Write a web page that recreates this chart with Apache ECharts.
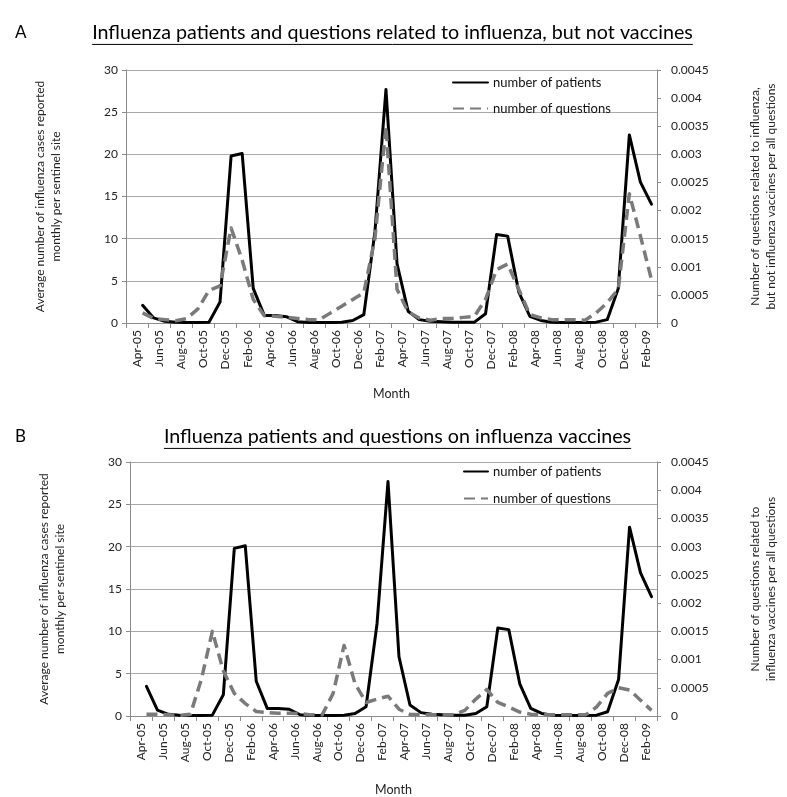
<!DOCTYPE html>
<html><head><meta charset="utf-8">
<script src="https://cdn.jsdelivr.net/npm/echarts@6/dist/echarts.min.js"></script>
<style>html,body{margin:0;padding:0;background:#fff}#c{width:787px;height:797px}</style>
</head><body><div id="c"></div>
<script>
// ---- data ----
const months = ['Apr-05','May-05','Jun-05','Jul-05','Aug-05','Sep-05','Oct-05','Nov-05','Dec-05',
  'Jan-06','Feb-06','Mar-06','Apr-06','May-06','Jun-06','Jul-06','Aug-06','Sep-06','Oct-06','Nov-06','Dec-06',
  'Jan-07','Feb-07','Mar-07','Apr-07','May-07','Jun-07','Jul-07','Aug-07','Sep-07','Oct-07','Nov-07','Dec-07',
  'Jan-08','Feb-08','Mar-08','Apr-08','May-08','Jun-08','Jul-08','Aug-08','Sep-08','Oct-08','Nov-08','Dec-08',
  'Jan-09','Feb-09'];
const tickLabels = ['Apr-05','Jun-05','Aug-05','Oct-05','Dec-05','Feb-06','Apr-06','Jun-06','Aug-06','Oct-06',
  'Dec-06','Feb-07','Apr-07','Jun-07','Aug-07','Oct-07','Dec-07','Feb-08','Apr-08','Jun-08','Aug-08','Oct-08',
  'Dec-08','Feb-09'];
const patientsA = [2.1,0.6,0.2,0.1,0.05,0.05,0.1,2.5,19.8,
  20.1,4.1,0.9,0.9,0.75,0.15,0.05,0.05,0.05,0.1,0.3,1.0,
  10.8,27.7,7.0,1.4,0.4,0.2,0.15,0.1,0.1,0.1,1.1,10.5,
  10.3,3.7,0.8,0.3,0.1,0.05,0.05,0.05,0.1,0.4,4.1,22.3,
  16.7,14.1];
const questionsA = [0.00018,0.00008,0.00006,0.00004,0.00008,0.00025,0.00058,0.00066,0.00169,
  0.00112,0.00042,0.00013,0.00012,0.0001,0.00008,0.00006,0.00006,0.00018,0.0003,0.00042,0.00054,
  0.0015,0.0035,0.0006,0.0002,0.00009,0.00005,0.00008,0.00008,0.0001,0.00012,0.00042,0.00095,
  0.00105,0.0006,0.00015,0.00009,0.00006,0.00006,0.00006,0.00005,0.00018,0.00036,0.0006,0.0023,
  0.00155,0.00077];
const patientsB = [3.5,0.7,0.2,0.1,0.05,0.05,0.1,2.5,19.8,
  20.1,4.1,0.9,0.9,0.8,0.15,0.05,0.05,0.05,0.1,0.3,1.1,
  10.9,27.7,7.0,1.3,0.4,0.2,0.15,0.1,0.1,0.3,1.1,10.4,
  10.2,3.8,0.9,0.3,0.1,0.05,0.05,0.05,0.1,0.5,4.3,22.3,
  16.9,14.1];
const questionsB = [0.00003,0.00003,0.00002,0.00001,0.00003,0.00065,0.0015,0.0008,0.0004,
  0.00022,0.00008,0.00006,0.00005,0.00005,0.00004,0.00002,0.00002,0.0004,0.00125,0.00057,0.00024,
  0.0003,0.00035,0.00012,0.00003,0.00002,0.00002,0.00002,0.00002,0.0001,0.0003,0.00047,0.00024,
  0.00016,0.00007,0.00003,0.00002,0.00002,0.00002,0.00002,0.00002,0.00016,0.0004,0.0005,0.00046,
  0.00028,0.0001];
const titleA = 'Influenza patients and questions related to influenza, but not vaccines';
const titleB = 'Influenza patients and questions on influenza vaccines';
const leftName = 'Average number of influenza cases reported\nmonthly per sentinel site';
const rightNameA = 'Number of questions related to influenza,\nbut not influenza vaccines per all questions';
const rightNameB = 'Number of questions related to\ninfluenza vaccines per all questions';
const seriesNames = ['number of patients', 'number of questions'];

// ---- chart ----
const FONT = 'Lato, "Open Sans", sans-serif';
const dataCats = [''].concat(months); // leading empty slot, as on the reference axis
const chart = echarts.init(document.getElementById('c'), null, {renderer:'canvas'});

const ctx = document.createElement('canvas').getContext('2d');
ctx.font = '18px Lato';
const tfs = 18 * 601 / ctx.measureText(titleA).width;
ctx.font = tfs + 'px Lato';
const wA = ctx.measureText(titleA).width, wB = ctx.measureText(titleB).width;

const axisGray = '#8c8c8c';
function xAxes(g, gap) {
  return [
    {type:'category', gridIndex:g, data:dataCats, boundaryGap:true, show:false},
    {type:'category', gridIndex:g, data:tickLabels, boundaryGap:true, position:'bottom',
     axisLine:{lineStyle:{color:axisGray}}, axisTick:{show:true, length:5, lineStyle:{color:axisGray}},
     axisLabel:{rotate:90, interval:0, fontSize:12, color:'#222', margin:7, fontFamily:FONT},
     splitLine:{show:false},
     name:'Month', nameLocation:'middle', nameGap:gap,
     nameTextStyle:{fontSize:12.5, color:'#222', fontFamily:FONT}}
  ];
}
function yAxes(g, rName) {
  return [
    {type:'value', gridIndex:g, min:0, max:30, interval:5, position:'left',
     axisLine:{show:true, lineStyle:{color:axisGray}}, axisTick:{show:true, length:4, lineStyle:{color:axisGray}},
     splitLine:{show:true, lineStyle:{color:'#a9a9a9', width:1.2}},
     axisLabel:{fontSize:12, color:'#222', margin:8, fontFamily:FONT},
     name:leftName, nameLocation:'middle', nameRotate:90, nameGap:62,
     nameTextStyle:{fontSize:12, color:'#222', fontFamily:FONT, lineHeight:16}},
    {type:'value', gridIndex:g, min:0, max:0.0045, interval:0.0005, position:'right',
     axisLine:{show:true, lineStyle:{color:axisGray}}, axisTick:{show:true, length:4, lineStyle:{color:axisGray}},
     splitLine:{show:false},
     axisLabel:{fontSize:12, color:'#222', margin:14, fontFamily:FONT, formatter:v => String(+v.toFixed(4))},
     name:rName, nameLocation:'middle', nameRotate:90, nameGap:90,
     nameTextStyle:{fontSize:12, color:'#222', fontFamily:FONT, lineHeight:16}}
  ];
}
function series(g, pats, qs) {
  return [
    {name:seriesNames[0], type:'line', xAxisIndex:2*g, yAxisIndex:2*g, data:[null].concat(pats),
     symbol:'none', lineStyle:{color:'#000', width:3, join:'round', cap:'round'}, itemStyle:{color:'#000'}},
    {name:seriesNames[1], type:'line', xAxisIndex:2*g, yAxisIndex:2*g+1, data:[null].concat(qs),
     symbol:'none', lineStyle:{color:'#7a7a7a', width:3.5, type:[11,6], join:'round'}, itemStyle:{color:'#7a7a7a'}}
  ];
}
function titleGraphics(letter, ly, text, cx, cy, w) {
  return [
    {type:'text', x:15, y:ly, style:{text:letter, font:'17px Lato', fill:'#000', textAlign:'left', textVerticalAlign:'middle'}},
    {type:'text', x:cx, y:cy, style:{text:text, font:tfs + 'px Lato', fill:'#000', textAlign:'center', textVerticalAlign:'middle'}},
    {type:'line', shape:{x1:cx - w/2, y1:cy + tfs*0.58, x2:cx + w/2, y2:cy + tfs*0.58}, style:{stroke:'#000', lineWidth:1}}
  ];
}
const legendBase = {data:seriesNames, orient:'vertical', itemHeight:14,
  itemStyle:{opacity:0}, textStyle:{fontSize:13, color:'#111', fontFamily:FONT}};

const option = {
  backgroundColor:'#fff',
  animation:false,
  textStyle:{fontFamily:FONT},
  grid:[
    {left:126, top:70, width:534, height:253},
    {left:130, top:462, width:530, height:254}
  ],
  xAxis: xAxes(0, 64).concat(xAxes(1, 67)),
  yAxis: yAxes(0, rightNameA).concat(yAxes(1, rightNameB)),
  legend:[
    Object.assign({}, legendBase, {left:447, top:71, itemWidth:35, itemGap:13}),
    Object.assign({}, legendBase, {left:458, top:460, itemWidth:24, itemGap:14})
  ],
  series: series(0, patientsA, questionsA).concat(series(1, patientsB, questionsB)),
  graphic: titleGraphics('A', 33, titleA, 392.5, 33, wA).concat(titleGraphics('B', 437, titleB, 397.5, 437, wB))
};
chart.setOption(option);
</script>
</body></html>
